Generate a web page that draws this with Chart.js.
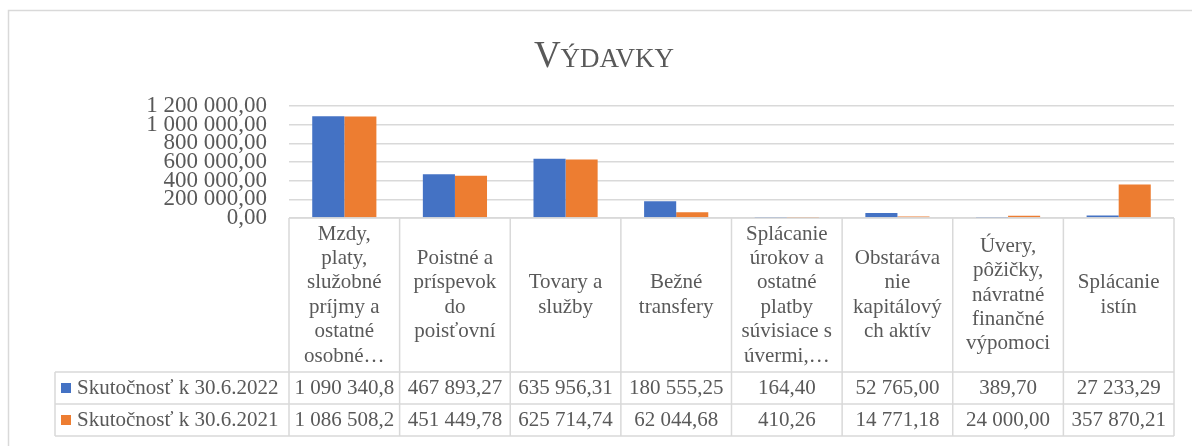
<!DOCTYPE html>
<html>
<head>
<meta charset="utf-8">
<script src="https://cdn.jsdelivr.net/npm/chart.js@4.4.1/dist/chart.umd.min.js"></script>
<style>
  body { margin: 0; background: #fff; }
  canvas { display: block; }
</style>
</head>
<body>
<canvas id="vydavky" width="1192" height="446"></canvas>
<script>
// kategórie (zalomené tak ako v tabuľke)
const categories = [
  ['Mzdy,', 'platy,', 'služobné', 'príjmy a', 'ostatné', 'osobné…'],
  ['Poistné a', 'príspevok', 'do', 'poisťovní'],
  ['Tovary a', 'služby'],
  ['Bežné', 'transfery'],
  ['Splácanie', 'úrokov a', 'ostatné', 'platby', 'súvisiace s', 'úvermi,…'],
  ['Obstaráva', 'nie', 'kapitálový', 'ch aktív'],
  ['Úvery,', 'pôžičky,', 'návratné', 'finančné', 'výpomoci'],
  ['Splácanie', 'istín']
];
const seriesNames = ['Skutočnosť k 30.6.2022', 'Skutočnosť k 30.6.2021'];
const values2022 = [1090340.80, 467893.27, 635956.31, 180555.25, 164.40, 52765.00, 389.70, 27233.29];
const values2021 = [1086508.20, 451449.78, 625714.74, 62044.68, 410.26, 14771.18, 24000.00, 357870.21];
const yTicks = [0, 200000, 400000, 600000, 800000, 1000000, 1200000];

const textColor = '#595959';
const lineColor = '#d9d9d9';
const serif = '"Liberation Serif", "Times New Roman", serif';

function fmt(v) {
  const parts = v.toFixed(2).split('.');
  return parts[0].replace(/\B(?=(\d{3})+(?!\d))/g, ' ') + ',' + parts[1];
}

const tablePlugin = {
  id: 'tablePlugin',
  beforeDraw(chart) {
    const ctx = chart.ctx;
    ctx.save();
    ctx.fillStyle = '#fff';
    ctx.fillRect(0, 0, chart.width, chart.height);
    // rámik grafu
    ctx.strokeStyle = lineColor;
    ctx.lineWidth = 1.5;
    ctx.beginPath();
    ctx.moveTo(8.5, chart.height);
    ctx.lineTo(8.5, 10.5);
    ctx.lineTo(chart.width, 10.5);
    ctx.stroke();
    ctx.restore();
  },
  afterDraw(chart) {
    const ctx = chart.ctx;
    const area = chart.chartArea;
    const n = categories.length;
    const colW = (area.right - area.left) / n;
    const headTop = area.bottom;
    const headBottom = 372;
    const rowH = 32;
    const legendLeft = 55;
    ctx.save();

    // nadpis s kapitálkami
    const big = '37px ' + serif, small = '27px ' + serif;
    ctx.fillStyle = textColor;
    ctx.textBaseline = 'alphabetic';
    ctx.font = big;
    const w1 = ctx.measureText('V').width;
    ctx.font = small;
    const w2 = ctx.measureText('ÝDAVKY').width;
    let tx = 604 - (w1 + w2) / 2;
    ctx.font = big;
    ctx.textAlign = 'left';
    ctx.fillText('V', tx, 67);
    ctx.font = small;
    ctx.fillText('ÝDAVKY', tx + w1, 67);

    // čiary tabuľky
    ctx.strokeStyle = lineColor;
    ctx.lineWidth = 1.5;
    ctx.beginPath();
    ctx.moveTo(area.left, headTop); ctx.lineTo(area.right, headTop);
    for (let r = 0; r <= 2; r++) {
      const y = headBottom + r * rowH;
      ctx.moveTo(legendLeft, y); ctx.lineTo(area.right, y);
    }
    for (let c = 0; c <= n; c++) {
      const x = area.left + c * colW;
      ctx.moveTo(x, headTop); ctx.lineTo(x, headBottom + 2 * rowH);
    }
    ctx.moveTo(legendLeft, headBottom); ctx.lineTo(legendLeft, headBottom + 2 * rowH);
    ctx.stroke();

    // hlavičky
    ctx.font = '21px ' + serif;
    ctx.fillStyle = textColor;
    ctx.textAlign = 'center';
    ctx.textBaseline = 'middle';
    const lh = 24.4;
    const midHead = (headTop + headBottom) / 2;
    categories.forEach((lines, i) => {
      const cx = area.left + (i + 0.5) * colW;
      const y0 = midHead - (lines.length - 1) * lh / 2;
      lines.forEach((ln, j) => ctx.fillText(ln, cx, y0 + j * lh));
    });

    // riadky s hodnotami
    const rows = [values2022, values2021];
    const colors = chart.data.datasets.map(d => d.backgroundColor);
    rows.forEach((vals, r) => {
      const cy = headBottom + r * rowH + rowH / 2;
      ctx.fillStyle = colors[r];
      ctx.fillRect(61, cy - 5, 10, 10);
      ctx.fillStyle = textColor;
      ctx.textAlign = 'left';
      ctx.fillText(seriesNames[r], 77, cy);
      ctx.textAlign = 'center';
      vals.forEach((v, i) => {
        let s = fmt(v);
        while (ctx.measureText(s).width > colW - 4) s = s.slice(0, -1);
        ctx.fillText(s, area.left + (i + 0.5) * colW, cy);
      });
    });
    ctx.restore();
  }
};

new Chart(document.getElementById('vydavky'), {
  type: 'bar',
  data: {
    labels: categories.map(c => c.join(' ')),
    datasets: [
      { label: seriesNames[0], data: values2022, backgroundColor: '#4472c4' },
      { label: seriesNames[1], data: values2021, backgroundColor: '#ed7d31' }
    ]
  },
  options: {
    responsive: false,
    animation: false,
    layout: { padding: { left: 0, right: 18, top: 106, bottom: 228 } },
    datasets: { bar: { categoryPercentage: 0.58, barPercentage: 1 } },
    plugins: { legend: { display: false }, title: { display: false }, tooltip: { enabled: false } },
    scales: {
      x: { display: false },
      y: {
        min: 0,
        max: 1200000,
        afterBuildTicks(scale) { scale.ticks = yTicks.map(v => ({ value: v })); },
        afterFit(scale) { scale.width = 289; },
        border: { display: false },
        grid: { color: lineColor, lineWidth: 1.5, drawTicks: false },
        ticks: {
          autoSkip: false,
          padding: 22,
          color: textColor,
          font: { family: serif, size: 23 },
          callback: v => fmt(v)
        }
      }
    }
  },
  plugins: [tablePlugin]
});
</script>
</body>
</html>
